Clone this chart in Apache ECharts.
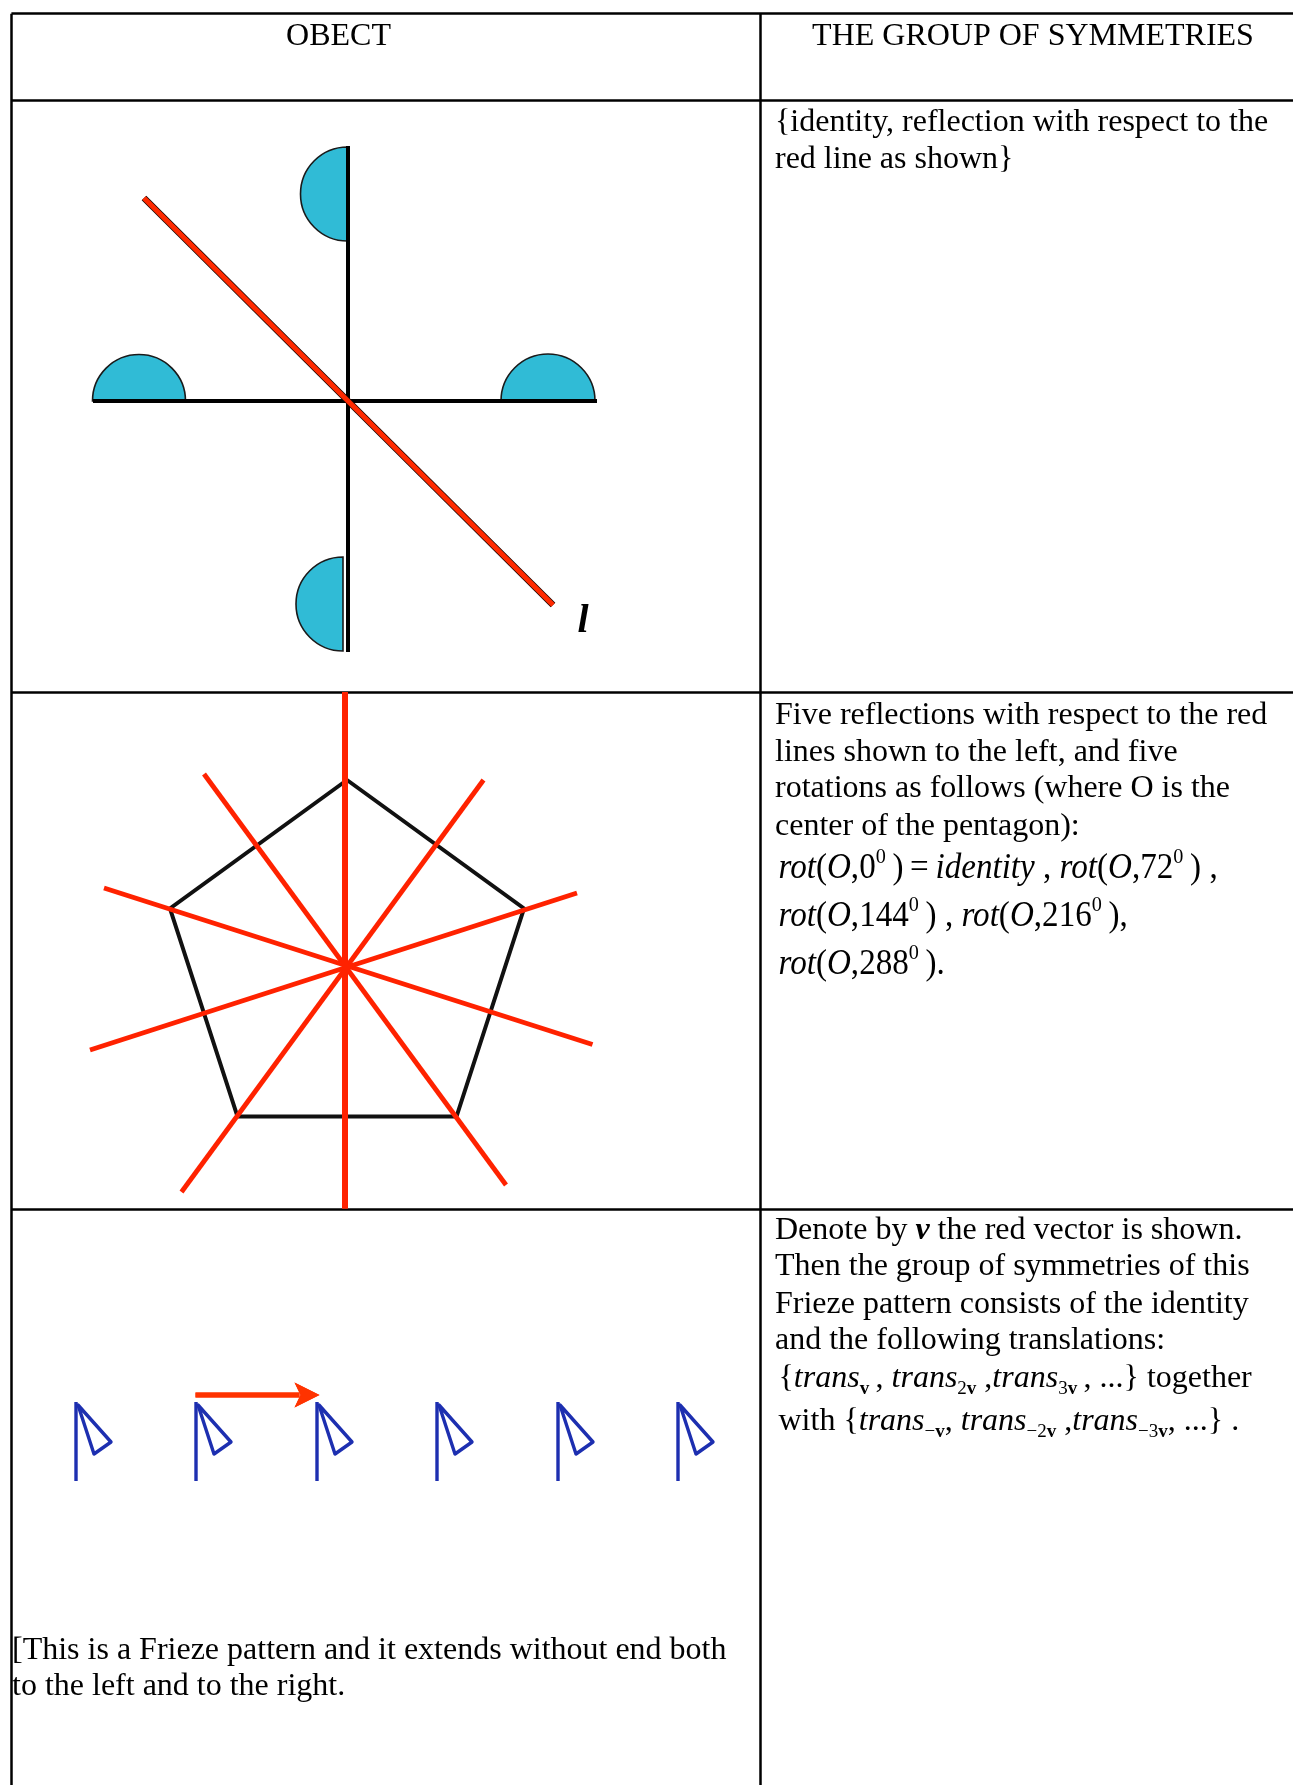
<!DOCTYPE html>
<html>
<head>
<meta charset="utf-8">
<script src="https://cdn.jsdelivr.net/npm/echarts@6/dist/echarts.min.js"></script>
<style>
html, body { margin: 0; padding: 0; background: #fff; }
#main { width: 1293px; height: 1785px; }
</style>
</head>
<body>
<div id="main"></div>
<script>
var SERIF = '"Liberation Serif", "Times New Roman", serif';

// table rules (page is used as a 1:1 data space, y grows downwards)
var ruleColX = [11.4, 760.3];
var ruleRowY = [13.7, 100.2, 692, 1208.8];

// row 1 : cross with four half discs and the mirror line l
var crossArms = [[[347.5, 146], [347.5, 652]], [[93, 401], [597, 401]]];
var discCenters = [[347.5, 194], [139, 401], [548, 401], [343, 604]];
var discRadius = [47, 46.5, 47, 47];
var discSide = ['left', 'up', 'up', 'left'];
var mirrorLine = [[144, 198], [553, 605]];
var mirrorLabel = [583, 622];

// row 2 : pentagon and its five mirror lines
var pentagon = [[347, 780], [524, 908.5], [456.5, 1116.5], [237.5, 1116.5], [170, 908.5], [347, 780]];
var pentaAxisMain = [[345, 692], [345, 1208.8]];
var pentaAxes = [
	[[204, 774], [506, 1185]],
	[[483.5, 780], [181.5, 1192]],
	[[104, 888], [592.5, 1044.5]],
	[[577, 893], [90, 1050]]
];

// row 3 : frieze of flags and the vector v
var flagX = [76, 196, 317, 437, 558, 678];
var flagTop = 1402;
var vectorV = [[195.5, 1395], [319.5, 1395]];

// texts
var headerText = ['OBECT', 'THE GROUP OF SYMMETRIES'];
var headerPos = [[338.5, 36.5], [1033, 36.5]];

var row1Text = ['{identity, reflection with respect to the', 'red line as shown}'];
var row1Y = [123, 159.5];

var row2Text = [
	'Five reflections with respect to the red',
	'lines shown to the left, and five',
	'rotations as follows (where O is the',
	'center of the pentagon):'
];
var row2Y = [716, 752.5, 789, 826.5];
var row2Math = [
	'{i|rot}({i|O},0{up|0}\u2009)\u2009=\u2009{i|identity} , {i|rot}({i|O},72{up|0}\u2009) ,',
	'{i|rot}({i|O},144{up|0}\u2009) , {i|rot}({i|O},216{up|0}\u2009),',
	'{i|rot}({i|O},288{up|0}\u2009).'
];
var row2MathY = [868.5, 916.5, 964.5];

var row3Text = [
	'Denote by {bi|v} the red vector is shown.',
	'Then the group of symmetries of this',
	'Frieze pattern consists of the identity',
	'and the following translations:'
];
var row3Y = [1230.5, 1267, 1304.5, 1341];
var row3Math = [
	'{{i|trans}{sub|v}\u2009, {i|trans}{subn|2}{sub|v} ,{i|trans}{subn|3}{sub|v}\u2009, ...} together',
	'with {{i|trans}{subn|\u2212}{sub|v}, {i|trans}{subn|\u22122}{sub|v} ,{i|trans}{subn|\u22123}{sub|v}, ...} .'
];
var row3MathY = [1378.5, 1421.5];

var noteText = ['[This is a Frieze pattern and it extends without end both', 'to the left and to the right.'];
var noteY = [1650.5, 1687];

var textLeft = 775;
var mathLeft = 778.5;
var noteLeft = 12;

function richSet(size) {
	return {
		i: {fontFamily: SERIF, fontSize: size, fontStyle: 'italic', fill: '#000'},
		up: {fontFamily: SERIF, fontSize: Math.round(size * 0.6), verticalAlign: 'top', fill: '#000'},
		sub: {fontFamily: SERIF, fontSize: Math.round(size * 0.6), fontWeight: 'bold', verticalAlign: 'bottom', fill: '#000'},
		subn: {fontFamily: SERIF, fontSize: Math.round(size * 0.6), verticalAlign: 'bottom', fill: '#000'},
		bi: {fontFamily: SERIF, fontSize: size, fontStyle: 'italic', fontWeight: 'bold', fill: '#000'}
	};
}

// collect all text lines
var textItems = [];
headerText.forEach(function(t, i) {
	textItems.push({x: headerPos[i][0], y: headerPos[i][1], text: t, align: 'center'});
});
row1Text.forEach(function(t, i) {
	textItems.push({x: textLeft, y: row1Y[i], text: t, align: 'left'});
});
row2Text.forEach(function(t, i) {
	textItems.push({x: textLeft, y: row2Y[i], text: t, align: 'left'});
});
row2Math.forEach(function(t, i) {
	textItems.push({x: mathLeft, y: row2MathY[i], text: t, align: 'left', size: 36, lh: 44, sx: 0.92});
});
row3Text.forEach(function(t, i) {
	textItems.push({x: textLeft, y: row3Y[i], text: t, align: 'left'});
});
row3Math.forEach(function(t, i) {
	textItems.push({x: mathLeft, y: row3MathY[i], text: t, align: 'left', lh: 40});
});
noteText.forEach(function(t, i) {
	textItems.push({x: noteLeft, y: noteY[i], text: t, align: 'left'});
});

// table rule segments
var ruleSegs = [];
ruleColX.forEach(function(x) {
	ruleSegs.push({coords: [[x, ruleRowY[0]], [x, 1785]]});
});
ruleRowY.forEach(function(y) {
	ruleSegs.push({coords: [[ruleColX[0], y], [1293, y]]});
});

function segs(list) {
	return list.map(function(c) { return {coords: c}; });
}

function renderDisc(params, api) {
	var i = params.dataIndex;
	var c = api.coord(discCenters[i]);
	var r = Math.abs(api.size([discRadius[i], discRadius[i]])[0]);
	var up = discSide[i] === 'up';
	return {
		type: 'sector',
		shape: {
			cx: c[0], cy: c[1], r0: 0, r: r,
			startAngle: up ? Math.PI : Math.PI / 2,
			endAngle: up ? Math.PI * 2 : Math.PI * 1.5,
			clockwise: true
		},
		style: {fill: '#30BBD6', stroke: '#1a1a1a', lineWidth: 1.6}
	};
}

function renderFlag(params, api) {
	var x = api.value(0), y = api.value(1);
	var top = api.coord([x, y]);
	var foot = api.coord([x, y + 79]);
	var pts = [[x + 2, y + 3], [x + 35, y + 40], [x + 18, y + 52]].map(function(p) { return api.coord(p); });
	return {
		type: 'group',
		children: [{
			type: 'line',
			shape: {x1: top[0], y1: top[1], x2: foot[0], y2: foot[1]},
			style: {stroke: '#1d2fb0', lineWidth: 3.4}
		}, {
			type: 'polygon',
			shape: {points: pts},
			style: {fill: 'none', stroke: '#1d2fb0', lineWidth: 3.4, lineJoin: 'round'}
		}]
	};
}

function renderArrow(params, api) {
	var a = api.coord(vectorV[0]);
	var b = api.coord(vectorV[1]);
	return {
		type: 'group',
		children: [{
			type: 'line',
			shape: {x1: a[0], y1: a[1], x2: b[0] - 20, y2: b[1]},
			style: {stroke: '#ff3300', lineWidth: 5}
		}, {
			type: 'polygon',
			shape: {points: [[b[0], b[1]], [b[0] - 25, b[1] - 12.5], [b[0] - 19, b[1]], [b[0] - 25, b[1] + 12.5]]},
			style: {fill: '#ff3300'}
		}]
	};
}

function renderText(params, api) {
	var t = textItems[params.dataIndex];
	var p = api.coord([t.x, t.y]);
	var size = t.size || 32;
	return {
		type: 'text',
		x: p[0], y: p[1],
		scaleX: t.sx || 1,
		style: {
			text: t.text,
			fill: '#000',
			fontFamily: SERIF,
			fontSize: size,
			lineHeight: t.lh,
			align: t.align,
			verticalAlign: 'middle',
			rich: richSet(size)
		}
	};
}

function renderLabel(params, api) {
	var p = api.coord(mirrorLabel);
	return {
		type: 'text', x: p[0], y: p[1],
		style: {text: 'l', fill: '#000', fontFamily: SERIF, fontSize: 40, fontStyle: 'italic', fontWeight: 'bold', align: 'center', verticalAlign: 'middle'}
	};
}

var chart = echarts.init(document.getElementById('main'));
chart.setOption({
	animation: false,
	backgroundColor: '#fff',
	grid: {left: 0, right: 0, top: 0, bottom: 0, containLabel: false},
	xAxis: {type: 'value', min: 0, max: 1293, show: false},
	yAxis: {type: 'value', min: 0, max: 1785, inverse: true, show: false},
	series: [
		{type: 'lines', coordinateSystem: 'cartesian2d', silent: true, z: 1,
			data: ruleSegs, lineStyle: {color: '#000', width: 2.5, opacity: 1}},
		{type: 'custom', silent: true, z: 2, renderItem: renderDisc,
			data: discCenters},
		{type: 'lines', coordinateSystem: 'cartesian2d', silent: true, z: 3,
			data: segs(crossArms), lineStyle: {color: '#000', width: 4, opacity: 1}},
		{type: 'lines', coordinateSystem: 'cartesian2d', silent: true, z: 4,
			data: segs([mirrorLine]), lineStyle: {color: '#1a0500', width: 6.6, opacity: 1}},
		{type: 'lines', coordinateSystem: 'cartesian2d', silent: true, z: 5,
			data: segs([mirrorLine]), lineStyle: {color: '#ff2a00', width: 5, opacity: 1}},
		{type: 'custom', silent: true, z: 5, renderItem: renderLabel, data: [mirrorLabel]},
		{type: 'lines', coordinateSystem: 'cartesian2d', polyline: true, silent: true, z: 3,
			data: [{coords: pentagon}], lineStyle: {color: '#111', width: 4, opacity: 1, join: 'miter'}},
		{type: 'lines', coordinateSystem: 'cartesian2d', silent: true, z: 4,
			data: segs(pentaAxes), lineStyle: {color: '#ff2200', width: 4.8, opacity: 1}},
		{type: 'lines', coordinateSystem: 'cartesian2d', silent: true, z: 4,
			data: segs([pentaAxisMain]), lineStyle: {color: '#ff2200', width: 6, opacity: 1}},
		{type: 'custom', silent: true, z: 3, renderItem: renderFlag,
			data: flagX.map(function(x) { return [x, flagTop]; })},
		{type: 'custom', silent: true, z: 4, renderItem: renderArrow, data: vectorV},
		{type: 'custom', silent: true, z: 6, renderItem: renderText,
			data: textItems.map(function(t) { return [t.x, t.y]; })}
	]
});
</script>
</body>
</html>
